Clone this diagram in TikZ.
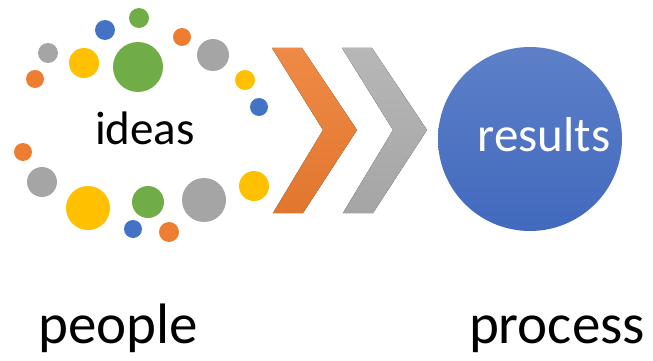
\documentclass[tikz,border=0pt]{standalone}
\usepackage{fontspec}
\setmainfont{Carlito}
\usetikzlibrary{positioning}
\definecolor{ideaGreen}{HTML}{70AD47}
\definecolor{ideaBlue}{HTML}{4472C4}
\definecolor{ideaOrange}{HTML}{ED7D31}
\definecolor{ideaGray}{HTML}{A5A5A5}
\definecolor{ideaYellow}{HTML}{FFC000}
\definecolor{resultBlue}{HTML}{4169BE}

\begin{document}
\begin{tikzpicture}[x=1pt, y=-1pt,
      dot/.style={circle, inner sep=0pt, draw=none},
      label/.style={font=\fontsize{57}{60}\selectfont, inner sep=0pt, anchor=base},
      chevron/.style={draw=none}]
    \useasboundingbox (0,0) rectangle (653,361);
    % the ring of ideas
    \foreach \x/\y/\r/\c [count=\i] in {139/18/10/ideaGreen, 105/30/10/ideaBlue,
        182/37/9/ideaOrange, 48/53/10/ideaGray, 84/63/15/ideaYellow,
        138/67/25/ideaGreen, 213/55/16/ideaGray, 245/80/10/ideaYellow,
        35/79/9/ideaOrange, 259/107/9/ideaBlue, 23/152/9/ideaOrange,
        42/182/15/ideaGray, 88/208/22/ideaYellow, 148/202/16/ideaGreen,
        204/200/22/ideaGray, 254/186/15/ideaYellow, 133/229/9/ideaBlue,
        169/232/10/ideaOrange} {
      \node[dot, fill=\c, minimum size=2*\r] (dot\i) at (\x,\y) {};
    }
    \node[label, font=\fontsize{47}{50}\selectfont] (ideas) at (145,144) {ideas};
    % the two chevrons
    \fill[chevron, top color=ideaOrange!90!white, bottom color=ideaOrange!95!black]
      (272,48) -- (302,48) -- (357,130) -- (303,213) -- (273,213) -- (323,130) -- cycle;
    \fill[chevron, top color=ideaGray!80!white, bottom color=ideaGray]
      (342,48) -- (372,48) -- (427,130) -- (373,213) -- (343,213) -- (393,130) -- cycle;
    % the result
    \node[circle, minimum size=184, inner sep=0pt, top color=resultBlue!85!white,
      bottom color=resultBlue] (res) at (530,139) {};
    \node[label, text=white, font=\fontsize{49}{52}\selectfont] (results) at (544,151) {results};
    \node[label] (people) at (118,343) {people};
    \node[label] (process) at (557,343) {process};
  \end{tikzpicture}
\end{document}
